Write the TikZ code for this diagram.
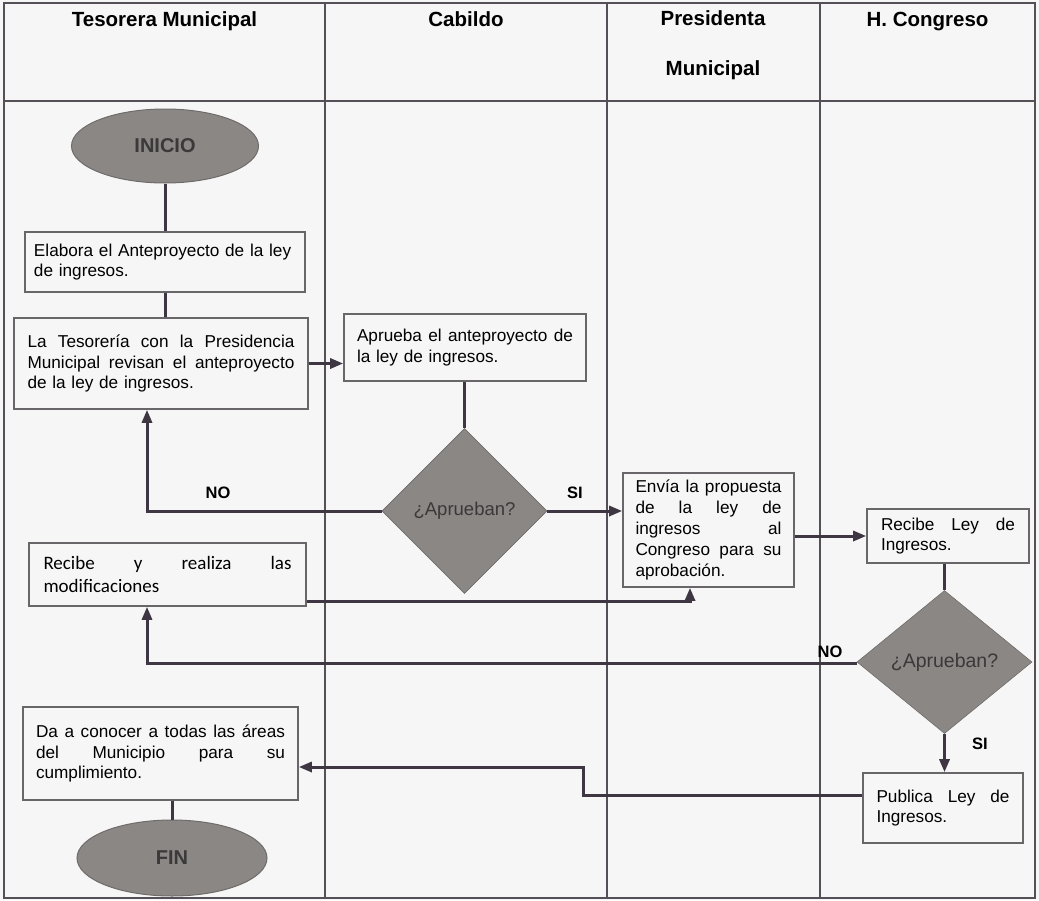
\documentclass[tikz,border=0pt]{standalone}
\usepackage{fontspec}
\setmainfont{Liberation Sans}
\newfontfamily\calibrifam{Carlito}
\usetikzlibrary{shapes.geometric,arrows.meta,calc}

\definecolor{paper}{RGB}{247,246,246}
\definecolor{rulec}{RGB}{85,80,88}
\definecolor{boxc}{RGB}{105,102,106}
\definecolor{linec}{RGB}{62,54,66}
\definecolor{shade}{RGB}{138,135,133}
\definecolor{shadeedge}{RGB}{110,107,106}
\definecolor{inktext}{RGB}{58,56,56}

% one fully justified line of a box text, #1 = width of the text column
\newcommand\jline[2]{\leavevmode\hbox to #1{\spaceskip=.3em plus 1fil\relax #2}}

\begin{document}
\begin{tikzpicture}[x=1pt,y=-1pt,
  rulestroke/.style={draw=rulec,line width=1.1pt},
  head/.style={font=\bfseries\fontsize{20.5}{24}\selectfont,align=center,inner sep=0pt},
  proc/.style={rectangle,draw=boxc,line width=1.6pt,fill=paper,inner sep=0pt,align=left,
    font=\fontsize{17.2}{20.8}\selectfont},
  term/.style={ellipse,draw=shadeedge,line width=1pt,fill=shade,inner sep=0pt,text=inktext,
    font=\bfseries\fontsize{20}{24}\selectfont},
  decision/.style={diamond,draw=shadeedge,line width=0.6pt,fill=shade,inner sep=0pt,text=inktext},
  flow/.style={draw=linec,line width=3pt},
  arrowflow/.style={flow,-{Triangle[length=13pt,width=10pt]}},
  tag/.style={font=\bfseries\fontsize{16.5}{19}\selectfont,inner sep=0pt},
]
\useasboundingbox (0,0) rectangle (1039,900);
\fill[paper] (0,0) rectangle (1039,900);

% swimlane table
\draw[rulestroke] (4,3) rectangle (1035,898);
\draw[rulestroke] (4,101) -- (1035,101);
\foreach \x in {325,607,820} \draw[rulestroke] (\x,3) -- (\x,898);

% lane headers
\node[head,anchor=base] (h1) at (164.5,26) {Tesorera Municipal};
\node[head,anchor=base] (h2) at (466,26) {Cabildo};
\node[head] (h3) at (713,45) {Presidenta\\[26pt]Municipal};
\node[head,anchor=base] (h4) at (927.5,26) {H. Congreso};

% process steps
\node[term,minimum width=187pt,minimum height=74pt] (inicio) at (165,146) {INICIO};

\node[proc,minimum width=280pt,minimum height=60pt,text width=262pt] (b1) at (165,262)
  {Elabora el Anteproyecto de la ley\\de ingresos.};

\node[proc,minimum width=294pt,minimum height=91pt,text width=267pt] (b2) at (161,363.5)
  {\jline{267pt}{La Tesorería con la Presidencia}\\
   \jline{267pt}{Municipal revisan el anteproyecto}\\
   de la ley de ingresos.};

\node[proc,minimum width=242pt,minimum height=67pt,text width=216pt] (b3) at (465,347.5)
  {\jline{216pt}{Aprueba el anteproyecto de}\\la ley de ingresos.};

\node[decision,minimum width=165pt,minimum height=165pt,font=\fontsize{18.5}{22}\selectfont]
  (d1) at (464.5,511) {¿Aprueban?};

\node[proc,minimum width=171pt,minimum height=114pt,text width=146pt] (envia) at (708.5,530)
  {\jline{146pt}{Envía la propuesta}\\
   \jline{146pt}{de la ley de}\\
   \jline{146pt}{ingresos al}\\
   \jline{146pt}{Congreso para su}\\
   aprobación.};

\node[proc,minimum width=162pt,minimum height=54pt,text width=134pt] (rl) at (948,536)
  {\jline{134pt}{Recibe Ley de}\\Ingresos.};

\node[decision,minimum width=175pt,minimum height=143pt,font=\fontsize{19.5}{23}\selectfont]
  (d2) at (944.5,662) {¿Aprueban?};

\node[proc,minimum width=160pt,minimum height=70pt,text width=133pt] (pub) at (943,808)
  {\jline{133pt}{Publica Ley de}\\Ingresos.};

\node[proc,minimum width=277pt,minimum height=63pt,text width=248pt,
  font=\calibrifam\fontsize{19}{23.5}\selectfont] (rm) at (167.5,574.5)
  {\jline{248pt}{Recibe y realiza las}\\modificaciones};

\node[proc,minimum width=275pt,minimum height=93pt,text width=249pt] (da) at (160.5,753.5)
  {\jline{249pt}{Da a conocer a todas las áreas}\\
   \jline{249pt}{del Municipio para su}\\
   cumplimiento.};

\node[term,minimum width=190pt,minimum height=76pt] (fin) at (172,858) {FIN};

% bend points of the routed connectors
\coordinate (noA) at (147,511);
\coordinate (upA) at (690,601);
\coordinate (noB) at (147,663);
\coordinate (k1) at (583,795);
\coordinate (k2) at (583,767);

% connectors
\draw[flow] (inicio.south) -- (inicio.south |- b1.north);
\draw[flow] (b1.south) -- (b1.south |- b2.north);
\draw[arrowflow] (b2.east) -- (b2.east -| b3.west);
\draw[flow] (d1.north |- b3.south) -- (d1.north);
\draw[arrowflow] (d1.east) -- (d1.east -| envia.west);
\draw[arrowflow] (d1.west) -- (noA) -- (noA |- b2.south);
\draw[arrowflow] (rm.south east |- upA) -- (upA) -- (upA |- envia.south);
\draw[arrowflow] (envia.east |- rl.west) -- (rl.west);
\draw[flow] (d2.north |- rl.south) -- (d2.north);
\draw[arrowflow] (d2.west |- noB) -- (noB) -- (noB |- rm.south);
\draw[arrowflow] (d2.south) -- (d2.south |- pub.north);
\draw[arrowflow] (pub.west |- k1) -- (k1) -- (k2) -- (k2 -| da.east);
\draw[flow] (fin.north |- da.south) -- (fin.north);

% branch labels
\node[tag] (si1) at (575,493) {SI};
\node[tag] (no1) at (218,493) {NO};
\node[tag] (no2) at (830,652) {NO};
\node[tag] (si2) at (980,744) {SI};
\end{tikzpicture}
\end{document}
